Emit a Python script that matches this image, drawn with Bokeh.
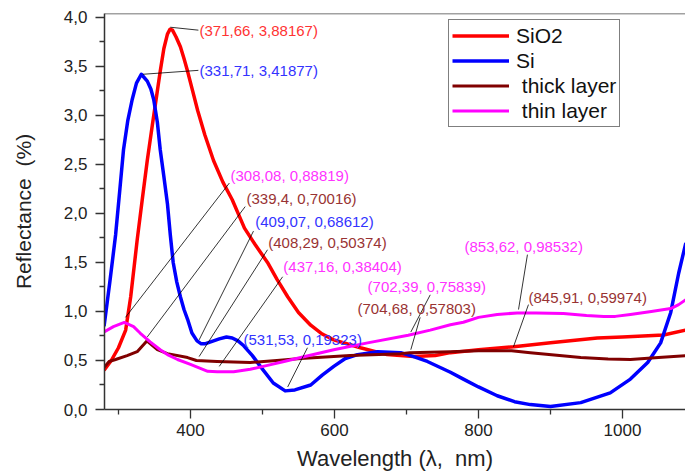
from bokeh.plotting import figure
from bokeh.models import (Range1d, CustomJSTickFormatter, FixedTicker, Legend,
                          LegendItem, Span, ColumnDataSource)
from bokeh.core.properties import value
from bokeh.embed import file_html
from bokeh.resources import INLINE

# ---------------- data ----------------
sio2_x = [280, 290, 300, 310, 317, 326, 333, 340, 347, 352, 358, 363, 368, 371.66, 375,
          380, 386, 391, 396, 403, 410, 420, 432, 445, 458, 475, 490, 507, 520, 535, 550,
          567, 583, 599, 636, 673, 710, 740, 761, 800, 849, 900, 965, 1000, 1057, 1088]
sio2_y = [0.40, 0.50, 0.63, 0.81, 1.15, 1.73, 2.14, 2.54, 2.90, 3.15, 3.45, 3.68, 3.83,
          3.88, 3.87, 3.80, 3.70, 3.58, 3.45, 3.25, 3.05, 2.80, 2.54, 2.32, 2.14, 1.85,
          1.68, 1.50, 1.33, 1.15, 0.99, 0.86, 0.77, 0.71, 0.63, 0.56, 0.54, 0.55, 0.58,
          0.61, 0.64, 0.68, 0.73, 0.74, 0.76, 0.81]

si_x = [280, 288, 296, 302, 307, 313, 319, 325, 331.71, 340, 345, 349, 354, 358, 363, 368,
        372, 376, 381, 386, 391, 396, 402, 409.07, 415, 420, 428, 440, 450, 458, 466, 474,
        486, 497, 515, 531.53, 545, 567, 583, 599, 615, 632, 660, 692, 710, 729, 761, 779,
        800, 826, 850, 872, 900, 942, 983, 1011, 1035, 1053, 1067, 1078, 1088]
si_y = [0.85, 1.30, 1.78, 2.25, 2.65, 2.95, 3.16, 3.33, 3.42, 3.35, 3.27, 3.16, 2.93,
        2.65, 2.38, 2.10, 1.78, 1.50, 1.30, 1.15, 1.02, 0.92, 0.78, 0.70, 0.67, 0.67,
        0.69, 0.72, 0.74, 0.73, 0.70, 0.65, 0.55, 0.44, 0.27, 0.19, 0.20, 0.25, 0.35,
        0.44, 0.52, 0.56, 0.59, 0.58, 0.54, 0.49, 0.38, 0.31, 0.23, 0.14, 0.08, 0.05,
        0.03, 0.07, 0.17, 0.31, 0.48, 0.68, 0.99, 1.39, 1.70]

thick_x = [280, 287, 296, 312, 326, 339.4, 354, 368, 396, 408.29, 437, 483, 520, 553,
           622, 692, 704.68, 761, 800, 845.91, 872, 942, 980, 1011, 1050, 1088]
thick_y = [0.43, 0.49, 0.51, 0.55, 0.59, 0.70, 0.61, 0.57, 0.53, 0.50, 0.49, 0.48, 0.50,
           0.52, 0.55, 0.57, 0.58, 0.59, 0.60, 0.60, 0.58, 0.53, 0.515, 0.51, 0.53, 0.55]

thin_x = [280, 293, 308.08, 321, 330, 344, 358, 368, 382, 400, 424, 437.16, 460, 483, 507,
          530, 553, 599, 646, 702.39, 733, 761, 779, 800, 826, 853.62, 880, 918, 950, 974,
          990, 1011, 1040, 1067, 1078, 1088]
thin_y = [0.79, 0.845, 0.888, 0.845, 0.78, 0.69, 0.61, 0.56, 0.51, 0.46, 0.39, 0.384,
          0.385, 0.41, 0.45, 0.49, 0.53, 0.61, 0.68, 0.758, 0.81, 0.865, 0.89, 0.94, 0.97,
          0.985, 0.985, 0.98, 0.96, 0.95, 0.95, 0.97, 1.00, 1.03, 1.07, 1.12]

series_names = ["SiO2", "Si", "\u00a0thick layer", "\u00a0thin layer"]

# annotation labels (as printed on the chart)
ann_text = ["(371,66, 3,88167)", "(331,71, 3,41877)", "(308,08, 0,88819)",
            "(339,4, 0,70016)", "(409,07, 0,68612)", "(408,29, 0,50374)",
            "(437,16, 0,38404)", "(531,53, 0,19323)", "(702,39, 0,75839)",
            "(704,68, 0,57803)", "(853,62, 0,98532)", "(845,91, 0,59974)"]
ann_series = [0, 1, 3, 2, 1, 2, 3, 1, 3, 2, 3, 2]
# leader line start (near the curve) and label anchor, in data units
lead_x0 = [372, 334, 309.7, 340, 412, 412, 440, 535, 706, 706, 855.6, 848.6]
lead_y0 = [3.90, 3.42, 0.94, 0.74, 0.71, 0.54, 0.44, 0.23, 0.79, 0.61, 1.02, 0.64]
lead_x1 = [411, 411, 454, 476, 487.5, 507, 528, 562.5, 733, 719, 868, 869.4]
lead_y1 = [3.87, 3.46, 2.31, 2.07, 1.82, 1.63, 1.354, 0.63, 1.17, 0.94, 1.58, 1.07]
label_x = [412.5, 412.5, 455.6, 477.8, 490, 508, 529, 473.6, 646, 632, 780.5, 869.4]
label_y = [3.868, 3.46, 2.39, 2.15, 1.92, 1.70, 1.455, 0.71, 1.25, 1.03, 1.66, 1.14]

x_ticks = [400, 600, 800, 1000]
x_minor = [300, 500, 700, 900]
y_ticks = [0.0, 0.5, 1.0, 1.5, 2.0, 2.5, 3.0, 3.5, 4.0]
y_minor = [0.25, 0.75, 1.25, 1.75, 2.25, 2.75, 3.25, 3.75]

# ---------------- styles ----------------
line_colors = ["#FF0000", "#0000FF", "#800000", "#FF00FF"]
line_widths = [3.5, 3.5, 3.0, 3.0]
text_colors = ["#FF3333", "#3333FF", "#993333", "#FF33FF"]
FONT = "Liberation Sans"

p = figure(width=685, height=473, output_backend="svg", toolbar_location=None,
           x_range=Range1d(280.6, 1087.5), y_range=Range1d(0, 4.04),
           min_border_left=104, min_border_right=0, min_border_top=13,
           min_border_bottom=63)
p.grid.visible = False
p.outline_line_color = None
p.background_fill_color = "white"
p.border_fill_color = "white"

xs = [sio2_x, si_x, thick_x, thin_x]
ys = [sio2_y, si_y, thick_y, thin_y]
renderers = []
for i in range(4):
    r = p.line(xs[i], ys[i], line_color=line_colors[i], line_width=line_widths[i],
               line_join="round")
    renderers.append(r)

# leader lines
p.segment(x0=lead_x0, y0=lead_y0, x1=lead_x1, y1=lead_y1, line_color="black",
          line_width=0.8)

src = ColumnDataSource(dict(x=label_x, y=label_y, t=ann_text,
                            c=[text_colors[s] for s in ann_series]))
p.text(x="x", y="y", text="t", text_color="c", source=src,
       text_font=value(FONT), text_font_size="15px", text_baseline="middle",
       text_align="left")

# top frame line
p.add_layout(Span(location=4.04, dimension="width", line_color="#444444",
                  line_width=1.5))

fmt = CustomJSTickFormatter(code="return tick.toFixed(1).replace('.', ',');")
fmt_x = CustomJSTickFormatter(code="return tick.toFixed(0);")

for ax in (p.xaxis[0], p.yaxis[0]):
    ax.axis_line_color = "#333333"
    ax.axis_line_width = 1.5
    ax.major_tick_line_color = "#333333"
    ax.minor_tick_line_color = "#333333"
    ax.major_tick_line_width = 1.3
    ax.minor_tick_line_width = 1.3
    ax.major_tick_out = 9
    ax.major_tick_in = 0
    ax.minor_tick_out = 5
    ax.minor_tick_in = 0
    ax.major_label_text_font = FONT
    ax.major_label_text_font_size = "17px"
    ax.major_label_text_color = "#222222"
    ax.axis_label_text_font = FONT
    ax.axis_label_text_font_style = "normal"
    ax.axis_label_text_color = "#222222"

p.xaxis.ticker = FixedTicker(ticks=x_ticks, minor_ticks=x_minor)
p.yaxis.ticker = FixedTicker(ticks=y_ticks, minor_ticks=y_minor)
p.yaxis.formatter = fmt
p.xaxis.formatter = fmt_x
p.xaxis.axis_label = "Wavelength (λ,\u00a0 nm)"
p.yaxis.axis_label = "Reflectance \u00a0(%)"
p.xaxis.axis_label_text_font_size = "22px"
p.yaxis.axis_label_text_font_size = "21px"
p.xaxis.major_label_standoff = 5
p.yaxis.major_label_standoff = 8
p.xaxis.axis_label_standoff = 7
p.yaxis.axis_label_standoff = 26

legend = Legend(items=[LegendItem(label=series_names[i], renderers=[renderers[i]])
                       for i in range(4)],
                location=(344, 282))
legend.glyph_width = 57
legend.glyph_height = 25
legend.label_height = 25
legend.spacing = 0
legend.padding = 3
legend.margin = 0
legend.label_standoff = 7
legend.label_text_font = FONT
legend.label_text_font_size = "21px"
legend.label_text_color = "#111111"
legend.border_line_color = "black"
legend.border_line_width = 1
legend.background_fill_alpha = 1
p.add_layout(legend)

open("out.html", "w").write(file_html(p, INLINE))
